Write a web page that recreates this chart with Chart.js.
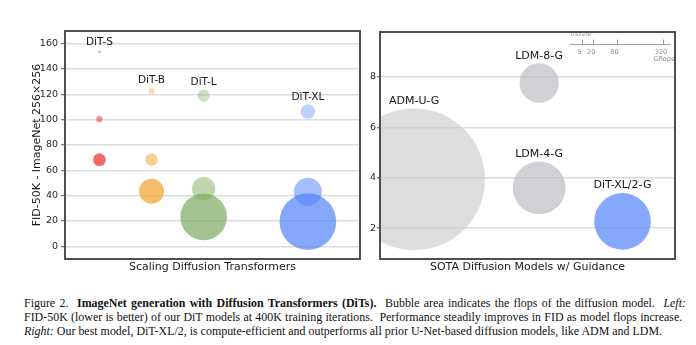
<!DOCTYPE html>
<html>
<head>
<meta charset="utf-8">
<script src="https://cdn.jsdelivr.net/npm/chart.js@4/dist/chart.umd.min.js"></script>
<style>
  body { margin: 0; background: #fff; width: 696px; height: 345px; overflow: hidden; position: relative; }
  #scaling { position: absolute; left: 0; top: 0; }
  #sota { position: absolute; left: 362px; top: 0; }
  .caption { position: absolute; left: 24px; top: 296px; width: 660px; font: 11.95px 'Liberation Serif', serif; color: #111; line-height: 14px; }
  .caption div { white-space: nowrap; }
  .caption span { display: inline-block; }
</style>
</head>
<body>
<canvas id="scaling" width="362" height="280"></canvas>
<canvas id="sota" width="334" height="280"></canvas>
<div class="caption">
  <div><span class="fit">Figure 2.&nbsp; <b>ImageNet generation with Diffusion Transformers (DiTs).</b> &nbsp;Bubble area indicates the flops of the diffusion model. &nbsp;<i>Left:</i></span></div>
  <div><span class="fit">FID-50K (lower is better) of our DiT models at 400K training iterations. &nbsp;Performance steadily improves in FID as model flops increase.</span></div>
  <div><span><i>Right:</i> Our best model, DiT-XL/2, is compute-efficient and outperforms all prior U-Net-based diffusion models, like ADM and LDM.</span></div>
</div>
<script>
// DiT scaling: one group per model size, points ordered patch 8, 4, 2
const ditModels = ['DiT-S', 'DiT-B', 'DiT-L', 'DiT-XL'];
const ditX = [1, 2, 3, 5];
const ditFid = [
  [153.6, 100.4, 68.4],
  [122.7, 68.4, 43.5],
  [118.9, 45.6, 23.3],
  [106.4, 43.0, 19.5]
];
const ditGflops = [
  [0.36, 1.41, 6.06],
  [1.42, 5.56, 23.01],
  [5.72, 19.70, 80.71],
  [7.85, 29.05, 118.64]
];
const leftYTicks = [0, 20, 40, 60, 80, 100, 120, 140, 160];

// guided SOTA comparison
const sotaModels = ['ADM-U-G', 'LDM-8-G', 'LDM-4-G', 'DiT-XL/2-G'];
const sotaX = [0, 1.5, 1.5, 2.5];
const sotaFid = [3.94, 7.76, 3.60, 2.27];
const sotaGflops = [742, 57.4, 103.6, 118.6];
const rightYTicks = [2, 4, 6, 8];
const legendGflops = [5, 20, 80, 320];

// bubble area ~ flops
const RADIUS_PER_ROOT = 2.6;
const radius = g => RADIUS_PER_ROOT * Math.sqrt(g);

const ditColors = [
  ['rgba(236,42,42,0.37)', 'rgba(236,42,42,0.52)', 'rgba(236,42,42,0.7)'],
  ['rgba(242,160,42,0.37)', 'rgba(242,160,42,0.52)', 'rgba(242,160,42,0.7)'],
  ['rgba(126,171,96,0.37)', 'rgba(126,171,96,0.5)', 'rgba(126,171,96,0.7)'],
  ['rgba(82,131,249,0.37)', 'rgba(82,131,249,0.52)', 'rgba(82,131,249,0.7)']
];
const sotaColors = ['rgba(200,200,200,0.62)', 'rgba(190,190,195,0.7)', 'rgba(190,190,195,0.7)', 'rgba(82,131,249,0.7)'];

Chart.defaults.font.family = "'DejaVu Sans', sans-serif";
Chart.defaults.color = '#262626';

const frame = {
  id: 'frame',
  afterDraw(chart) {
    const {ctx, chartArea: a} = chart;
    ctx.save();
    ctx.strokeStyle = '#4f4f4f';
    ctx.lineWidth = 2;
    ctx.strokeRect(a.left, a.top, a.right - a.left, a.bottom - a.top);
    ctx.restore();
  }
};

// name above the first (smallest) bubble of each dataset
const bubbleNames = {
  id: 'bubbleNames',
  afterDatasetsDraw(chart, args, opts) {
    const {ctx} = chart;
    ctx.save();
    ctx.font = opts.size + "px 'DejaVu Sans'";
    ctx.fillStyle = '#151515';
    ctx.textAlign = 'center';
    ctx.textBaseline = 'middle';
    chart.data.datasets.forEach((ds, i) => {
      const el = chart.getDatasetMeta(i).data[0];
      ctx.fillText(ds.label, el.x, el.y - el.options.radius - 7.5);
    });
    ctx.restore();
  }
};

const diameterKey = {
  id: 'diameterKey',
  afterDraw(chart) {
    const {ctx, chartArea: a} = chart;
    const x0 = a.right - 105;
    const y0 = a.top + 12.6;
    ctx.save();
    ctx.strokeStyle = '#9a9a9a';
    ctx.lineWidth = 1;
    ctx.beginPath();
    ctx.moveTo(x0, y0);
    ctx.lineTo(x0 + 101, y0);
    legendGflops.forEach(g => {
      const x = Math.round(x0 + 2 * radius(g)) + 0.5;
      ctx.moveTo(x, y0 - 5);
      ctx.lineTo(x, y0 + 0.5);
    });
    ctx.stroke();
    ctx.fillStyle = '#8a8a8a';
    ctx.textBaseline = 'middle';
    ctx.textAlign = 'left';
    ctx.font = "4.5px 'DejaVu Sans'";
    ctx.fillText('Diameter', x0 + 1, y0 - 9.5);
    ctx.textAlign = 'center';
    ctx.font = "6.5px 'DejaVu Sans'";
    legendGflops.forEach(g => ctx.fillText(String(g), x0 + 2 * radius(g) - 2, y0 + 7.5));
    ctx.fillText('Gflops', x0 + 94, y0 + 14.8);
    ctx.restore();
  }
};

const fixedTicks = list => scale => { scale.ticks = list.map(v => ({value: v})); };

new Chart(document.getElementById('scaling'), {
  type: 'bubble',
  data: {
    datasets: ditModels.map((name, m) => ({
      label: name,
      data: ditFid[m].map((fid, p) => ({x: ditX[m], y: fid, r: radius(ditGflops[m][p])})),
      backgroundColor: ditColors[m],
      borderWidth: 0,
      clip: 0
    }))
  },
  options: {
    responsive: false,
    animation: false,
    layout: {autoPadding: false, padding: {left: 27, top: 31, right: 2, bottom: 2}},
    plugins: {legend: {display: false}, tooltip: {enabled: false}, bubbleNames: {size: 10.5}},
    scales: {
      x: {
        type: 'linear', min: 0.34, max: 6.0,
        grid: {display: false},
        border: {display: false},
        ticks: {display: false},
        title: {display: true, text: 'Scaling Diffusion Transformers', font: {size: 11}, color: '#1a1a1a'},
        afterFit: s => { s.height = 19; }
      },
      y: {
        min: -10, max: 170,
        afterBuildTicks: fixedTicks(leftYTicks),
        grid: {color: '#dcdcdc', lineWidth: 1.5, tickLength: 4, tickColor: '#555', tickWidth: 1},
        border: {display: false},
        ticks: {font: {size: 9.5}, padding: 3},
        title: {display: true, text: 'FID-50K - ImageNet 256×256', font: {size: 11}, color: '#1a1a1a'},
        afterFit: s => { s.width = 38; }
      }
    }
  },
  plugins: [bubbleNames, frame]
});

new Chart(document.getElementById('sota'), {
  type: 'bubble',
  data: {
    datasets: sotaModels.map((name, i) => ({
      label: name,
      data: [{x: sotaX[i], y: sotaFid[i], r: radius(sotaGflops[i])}],
      backgroundColor: sotaColors[i],
      borderWidth: 0,
      clip: 0
    }))
  },
  options: {
    responsive: false,
    animation: false,
    layout: {autoPadding: false, padding: {left: 0, top: 32, right: 21, bottom: 2}},
    plugins: {legend: {display: false}, tooltip: {enabled: false}, bubbleNames: {size: 11}},
    scales: {
      x: {
        type: 'linear', min: -0.41, max: 3.13,
        grid: {display: false},
        border: {display: false},
        ticks: {display: false},
        title: {display: true, text: 'SOTA Diffusion Models w/ Guidance', font: {size: 11}, color: '#1a1a1a'},
        afterFit: s => { s.height = 19; }
      },
      y: {
        min: 0.78, max: 9.78,
        afterBuildTicks: fixedTicks(rightYTicks),
        grid: {color: '#dcdcdc', lineWidth: 1.5, tickLength: 3, tickColor: '#555', tickWidth: 1},
        border: {display: false},
        ticks: {font: {size: 9.5}, padding: 1},
        afterFit: s => { s.width = 18; }
      }
    }
  },
  plugins: [bubbleNames, diameterKey, frame]
});

// stretch or squeeze word gaps so the justified caption lines end flush right
const CAPTION_WIDTH = 658;
document.querySelectorAll('.caption .fit').forEach(line => {
  const gaps = (line.textContent.match(/[ \u00a0]+/g) || []).length;
  const extra = CAPTION_WIDTH - line.getBoundingClientRect().width;
  if (gaps) line.style.wordSpacing = (extra / gaps) + 'px';
});
</script>
</body>
</html>
